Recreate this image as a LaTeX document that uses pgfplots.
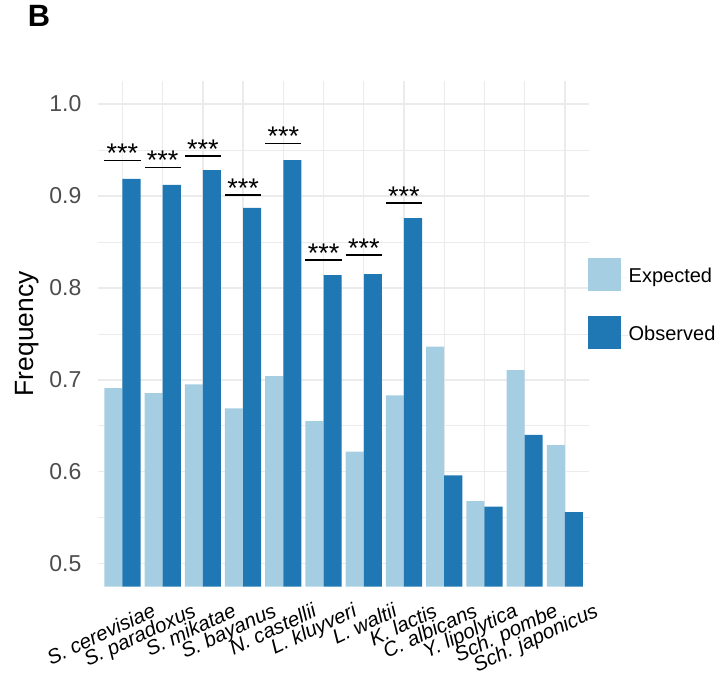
\documentclass[border=0pt]{standalone}
\usepackage{fontspec}
\setmainfont{Liberation Sans}
\usepackage{pgfplots}
\pgfplotsset{compat=1.18}
\usepackage{pgfplotstable}

\definecolor{expected}{HTML}{A6CEE3}
\definecolor{observed}{HTML}{1F78B4}
\definecolor{gridgrey}{HTML}{EBEBEB}
\definecolor{ticktext}{HTML}{4D4D4D}

% expected vs observed frequency per species
\pgfplotstableread{
x exp obs
0  0.691  0.9185
1  0.6855 0.912
2  0.695  0.928
3  0.669  0.887
4  0.704  0.939
5  0.655  0.814
6  0.622  0.815
7  0.683  0.876
8  0.736  0.596
9  0.568  0.562
10 0.7105 0.640
11 0.629  0.556
}\freqdata

% height of the significance brackets
\pgfplotstableread{
x y
0 0.9385
1 0.931
2 0.9436
3 0.901
4 0.957
5 0.830
6 0.836
7 0.892
}\sigdata

\begin{document}
\begin{tikzpicture}
\useasboundingbox (0,0) rectangle (364pt,341pt);
\begin{axis}[
  at={(49.15pt,47.65pt)}, anchor=south west,
  scale only axis, width=245.35pt, height=252.85pt,
  xmin=-0.6, xmax=11.6, ymin=0.475, ymax=1.025,
  axis line style={draw=none},
  tick style={draw=none}, major tick length=0pt, minor tick length=0pt,
  xtick={0,...,11},
  xticklabels={S. cerevisiae\hspace{3.2pt}, S. paradoxus\hspace{4.2pt}, S. mikatae\hspace{1.6pt},
    S. bayanus\hspace{1.7pt}, N. castellii\hspace{-0.8pt}, L. kluyveri, L. waltii\hspace{-3pt},
    K. lactis\hspace{-2.2pt}, C. albicans\hspace{-1.5pt}, Y. lipolytica\hspace{-1.3pt},
    Sch. pombe\hspace{-1.2pt}, Sch. japonicus\hspace{-0.8pt}},
  ytick={0.5,0.6,0.7,0.8,0.9,1.0},
  yticklabels={0.5,0.6,0.7,0.8,0.9,1.0},
  minor ytick={0.55,0.65,0.75,0.85,0.95},
  xmajorgrids, ymajorgrids, yminorgrids,
  major grid style={gridgrey, line width=0.7pt},
  minor grid style={gridgrey, line width=0.35pt},
  yticklabel style={font=\fontsize{11.5}{13}\selectfont, text=ticktext, anchor=east, inner sep=0pt, xshift=-8.3pt},
  xticklabel style={font=\fontsize{10.2}{12}\selectfont\itshape, text=black, xshift=14.2pt, yshift=-7.6pt, rotate=25, anchor=north east, inner sep=0pt},
  ylabel={Frequency},
  ylabel style={at={(axis description cs:-0.1453,0.5)}, anchor=center, font=\fontsize{13.2}{15}\selectfont},
  legend style={at={(axis description cs:0.9973,0.6506)}, anchor=north west, draw=none, fill=none,
    inner sep=0pt, outer sep=0pt, row sep=12.5pt, font=\fontsize{10}{12}\selectfont,
    nodes={inner sep=0pt}},
  legend cell align=left,
]
\addplot[ybar, bar width=0.45, bar shift=-0.225, fill=expected, draw=none,
  legend image code/.code={\fill[expected] (0pt,-6.75pt) rectangle (16.5pt,9.75pt);
    \path (16.5pt,0pt) -- (20.5pt,0pt);}]
  table[x=x, y=exp] {\freqdata};
\addlegendentry{Expected}
\addplot[ybar, bar width=0.45, bar shift=0.225, fill=observed, draw=none,
  legend image code/.code={\fill[observed] (0pt,-6.75pt) rectangle (16.5pt,9.75pt);
    \path (16.5pt,0pt) -- (20.5pt,0pt);}]
  table[x=x, y=obs] {\freqdata};
\addlegendentry{Observed}

% significance brackets spanning each pair of bars
\addplot[forget plot, draw=none, mark=none,
  error bars/.cd, x dir=both, x fixed=0.45, error mark=none,
  error bar style={draw=black, line width=0.85pt}]
  table[x=x, y=y] {\sigdata};
\addplot[forget plot, only marks, mark=none,
  nodes near coords={***},
  nodes near coords style={anchor=base, inner sep=0pt, yshift=-1.2pt,
    font=\fontsize{13.5}{15}\selectfont, text=black}]
  table[x=x, y=y] {\sigdata};
\end{axis}
\node[anchor=base west, inner sep=0pt, font=\fontsize{15.4}{18}\selectfont\bfseries] at (13.7pt,327.5pt) {B};
\end{tikzpicture}
\end{document}
